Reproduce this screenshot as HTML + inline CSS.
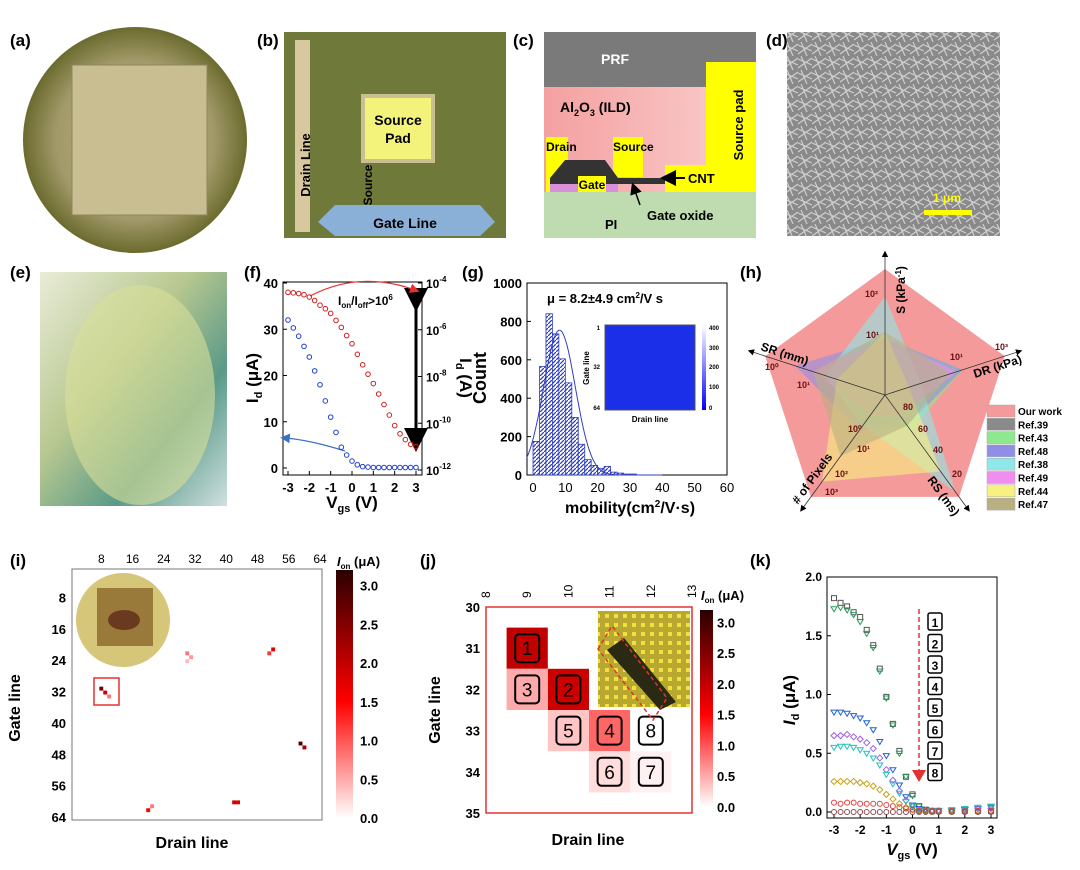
<!DOCTYPE html>
<html><head><meta charset="utf-8"><style>
html,body{margin:0;padding:0;background:#fff;}
svg{display:block;font-family:"Liberation Sans",sans-serif;font-weight:bold;}
</style></head><body>
<svg id="fig" width="1080" height="870" viewBox="0 0 1080 870" xmlns="http://www.w3.org/2000/svg">
<defs>
<radialGradient id="waferG" cx="50%" cy="50%" r="50%"><stop offset="0" stop-color="#b7a878"/><stop offset="0.7" stop-color="#a39a6a"/><stop offset="1" stop-color="#6b6b2e"/></radialGradient>
<linearGradient id="eG" x1="0" y1="0" x2="1" y2="1"><stop offset="0" stop-color="#e9ecd8"/><stop offset="0.4" stop-color="#b8c890"/><stop offset="0.7" stop-color="#5a9a88"/><stop offset="1" stop-color="#cfe0e0"/></linearGradient>
<linearGradient id="ildG" x1="0" y1="0" x2="1" y2="0"><stop offset="0" stop-color="#f4a0a0"/><stop offset="1" stop-color="#fbd0d0"/></linearGradient>
<pattern id="semP" width="14" height="14" patternUnits="userSpaceOnUse"><rect width="14" height="14" fill="#8a8a8a"/><path d="M0 3L14 9M3 0L9 14M0 12L14 2" stroke="#cfcfcf" stroke-width="1.2"/></pattern>
<pattern id="hatch" width="4" height="4" patternUnits="userSpaceOnUse"><rect width="4" height="4" fill="#fff"/><path d="M0 4L4 0" stroke="#2f3fc0" stroke-width="1.3"/></pattern>
<linearGradient id="cbI" x1="0" y1="1" x2="0" y2="0"><stop offset="0" stop-color="#fff"/><stop offset="0.47" stop-color="#ff0000"/><stop offset="1" stop-color="#2a0000"/></linearGradient>
<linearGradient id="cbG" x1="0" y1="1" x2="0" y2="0"><stop offset="0" stop-color="#0000ff"/><stop offset="1" stop-color="#ffffff"/></linearGradient>
<pattern id="padP" width="9" height="9" patternUnits="userSpaceOnUse"><rect width="9" height="9" fill="#b8a830"/><rect x="2" y="2" width="4" height="4" fill="#f0e040"/></pattern>
<marker id="arrK" markerWidth="8" markerHeight="8" refX="4" refY="4" orient="auto"><path d="M0 0L8 4L0 8z" fill="#000"/></marker>
<marker id="arrR" markerWidth="8" markerHeight="8" refX="4" refY="4" orient="auto"><path d="M0 0L8 4L0 8z" fill="#e53030"/></marker>
<marker id="arrB" markerWidth="8" markerHeight="8" refX="4" refY="4" orient="auto"><path d="M0 0L8 4L0 8z" fill="#3a70c8"/></marker>
</defs>

<!-- (a) -->
<g>
<text x="10" y="46" font-size="17">(a)</text>
<ellipse cx="135" cy="140" rx="112" ry="113" fill="url(#waferG)"/>
<rect x="72" y="65" width="135" height="150" fill="#c9bd92" stroke="#8a8760"/>
</g>

<!-- (b) -->
<g>
<text x="257" y="46" font-size="17">(b)</text>
<rect x="284" y="32" width="222" height="206" fill="#6f7a3a"/>
<rect x="295" y="40" width="15" height="192" fill="#d8c8a0"/>
<rect x="363" y="96" width="70" height="65" fill="#f3f27a" stroke="#c8c090" stroke-width="4"/>
<path d="M318 222L335 205H480L495 222L480 236H335Z" fill="#8ab0d8"/>
<text x="310" y="165" font-size="13" transform="rotate(-90 310 165)" text-anchor="middle">Drain Line</text>
<text x="398" y="125" font-size="14" text-anchor="middle">Source</text>
<text x="398" y="143" font-size="14" text-anchor="middle">Pad</text>
<text x="372" y="185" font-size="12" transform="rotate(-90 372 185)" text-anchor="middle">Source</text>
<text x="405" y="228" font-size="14" text-anchor="middle">Gate Line</text>
</g>

<!-- (c) -->
<g>
<text x="513" y="46" font-size="17">(c)</text>
<rect x="544" y="32" width="212" height="55" fill="#7a7a7a"/>
<rect x="544" y="87" width="212" height="105" fill="url(#ildG)"/>
<rect x="544" y="192" width="212" height="46" fill="#bedcb0"/>
<rect x="706" y="62" width="50" height="130" fill="#ffff00"/>
<rect x="665" y="165" width="91" height="27" fill="#ffff00"/>
<rect x="546" y="137" width="22" height="55" fill="#ffff00"/>
<rect x="613" y="137" width="30" height="40" fill="#ffff00"/>
<path d="M550 178L565 160H605L618 178L665 178V184H550Z" fill="#333"/>
<rect x="550" y="184" width="68" height="8" fill="#d890d8"/>
<rect x="578" y="176" width="28" height="16" fill="#ffff00"/>
<text x="615" y="64" font-size="14" fill="#fff" text-anchor="middle">PRF</text>
<text x="560" y="112" font-size="14">Al<tspan font-size="9" dy="4">2</tspan><tspan dy="-4">O</tspan><tspan font-size="9" dy="4">3</tspan><tspan dy="-4"> (ILD)</tspan></text>
<text x="546" y="151" font-size="12">Drain</text>
<text x="613" y="151" font-size="12">Source</text>
<text x="592" y="189" font-size="12" text-anchor="middle">Gate</text>
<text x="743" y="125" font-size="13" transform="rotate(-90 743 125)" text-anchor="middle">Source pad</text>
<line x1="685" y1="178" x2="668" y2="178" stroke="#000" stroke-width="2" marker-end="url(#arrK)"/>
<text x="688" y="183" font-size="13">CNT</text>
<line x1="640" y1="205" x2="634" y2="188" stroke="#000" stroke-width="1.5" marker-end="url(#arrK)"/>
<text x="605" y="229" font-size="13">PI</text>
<text x="647" y="220" font-size="13">Gate oxide</text>
</g>

<!-- (d) -->
<g>
<rect x="787" y="32" width="213" height="204" fill="url(#semP)"/>
<text x="766" y="46" font-size="17">(d)</text>
<rect x="924" y="210" width="48" height="5" fill="#ffff00"/>
<text x="947" y="202" font-size="12" fill="#ffff00" text-anchor="middle">1 μm</text>
</g>

<!-- (e) -->
<g>
<text x="10" y="278" font-size="17">(e)</text>
<rect x="40" y="272" width="187" height="234" fill="url(#eG)"/>
<ellipse cx="140" cy="395" rx="75" ry="110" fill="#d8e09a" opacity="0.6"/>
</g>

<!-- (f) -->
<g id="pf">
<text x="244" y="278" font-size="17">(f)</text>
<rect x="283" y="282" width="139" height="193" fill="none" stroke="#000" stroke-width="1"/>
<text x="258" y="378" font-size="17" transform="rotate(-90 258 378)" text-anchor="middle">I<tspan font-size="11" dy="4">d</tspan><tspan dy="-4"> (μA)</tspan></text>
<text x="460" y="378" font-size="17" transform="rotate(90 460 378)" text-anchor="middle">I<tspan font-size="11" dy="4">d</tspan><tspan dy="-4"> (A)</tspan></text>
<text x="352" y="508" font-size="17" text-anchor="middle">V<tspan font-size="11" dy="4">gs</tspan><tspan dy="-4"> (V)</tspan></text>
<text x="338" y="305" font-size="12">I<tspan font-size="8" dy="3">on</tspan><tspan dy="-3">/I</tspan><tspan font-size="8" dy="3">off</tspan><tspan dy="-3">&gt;10</tspan><tspan font-size="8" dy="-5">6</tspan></text>
<line x1="416" y1="300" x2="416" y2="440" stroke="#000" stroke-width="3" marker-start="url(#arrK)" marker-end="url(#arrK)"/>
<path d="M310 296Q360 270 415 290" fill="none" stroke="#e53030" stroke-width="1.2" marker-end="url(#arrR)"/>
<path d="M345 451Q310 440 285 438" fill="none" stroke="#3a70c8" stroke-width="1.2" marker-end="url(#arrB)"/>
<g id="fAxes"></g><g id="fMarks"></g>
</g>

<!-- (g) -->
<g id="pg">
<text x="462" y="278" font-size="17">(g)</text>
<rect x="527" y="283" width="200" height="192" fill="none" stroke="#000"/>
<text x="486" y="378" font-size="18" transform="rotate(-90 486 378)" text-anchor="middle">Count</text>
<text x="630" y="513" font-size="16" text-anchor="middle">mobility(cm<tspan font-size="10" dy="-6">2</tspan><tspan dy="6">/V·s)</tspan></text>
<text x="547" y="303" font-size="13">μ = 8.2±4.9 cm<tspan font-size="8" dy="-5">2</tspan><tspan dy="5">/V s</tspan></text>
<g id="gAxes"></g><g id="gMarks"></g>
<rect x="605" y="325" width="90" height="85" fill="#1b2fe8" stroke="#555"/>
<rect x="702" y="325" width="4" height="85" fill="url(#cbG)"/>
<text x="650" y="422" font-size="8" text-anchor="middle">Drain line</text>
<text x="589" y="368" font-size="8" transform="rotate(-90 589 368)" text-anchor="middle">Gate line</text>
<text x="600" y="330" font-size="6" text-anchor="end">1</text><text x="600" y="369" font-size="6" text-anchor="end">32</text><text x="600" y="410" font-size="6" text-anchor="end">64</text>
<text x="709" y="330" font-size="6">400</text><text x="709" y="350" font-size="6">300</text><text x="709" y="369" font-size="6">200</text><text x="709" y="389" font-size="6">100</text><text x="709" y="410" font-size="6">0</text>
</g>

<!-- (h) -->
<g id="ph">
<text x="740" y="278" font-size="17">(h)</text>
<g id="hMarks"></g>
<text x="905" y="290" font-size="12" transform="rotate(-90 905 290)" text-anchor="middle">S (kPa<tspan font-size="8" dy="-4">-1</tspan><tspan dy="4">)</tspan></text>
<text x="760" y="350" font-size="12" transform="rotate(18 760 350)">SR (mm)</text>
<text x="975" y="378" font-size="12" transform="rotate(-18 975 378)">DR (kPa)</text>
<text x="927" y="480" font-size="12" transform="rotate(54 927 480)">RS (ms)</text>
<text x="798" y="505" font-size="12" transform="rotate(-54 798 505)"># of Pixels</text>
<g font-size="9" fill="#6a1010">
<text x="865" y="297">10²</text><text x="866" y="338">10¹</text><text x="765" y="370">10⁰</text><text x="797" y="388">10¹</text>
<text x="950" y="360">10¹</text><text x="995" y="350">10³</text><text x="848" y="432">10⁰</text><text x="857" y="452">10¹</text>
<text x="835" y="477">10²</text><text x="825" y="495">10³</text><text x="903" y="410">80</text><text x="918" y="432">60</text>
<text x="933" y="453">40</text><text x="952" y="477">20</text>
</g>
<g id="hLegend"></g>
</g>

<!-- (i) -->
<g id="pi">
<text x="10" y="566" font-size="17">(i)</text>
<rect x="72" y="569" width="250" height="251" fill="#fff" stroke="#777"/>
<g id="iMarks"></g>
<circle cx="123" cy="620" r="47" fill="#d6c67a"/>
<rect x="97" y="588" width="56" height="58" fill="#9a7a3a"/>
<ellipse cx="124" cy="620" rx="16" ry="10" fill="#6a3a20"/>
<rect x="94" y="678" width="25" height="27" fill="none" stroke="#e53030" stroke-width="1.5"/>
<text x="20" y="708" font-size="16" transform="rotate(-90 20 708)" text-anchor="middle">Gate line</text>
<text x="192" y="848" font-size="16" text-anchor="middle">Drain line</text>
<rect x="336" y="570" width="17" height="248" fill="url(#cbI)"/>
<g id="iAxes"></g>
</g>

<!-- (j) -->
<g id="pj">
<text x="420" y="566" font-size="17">(j)</text>
<g id="jMarks"></g>
<rect x="598" y="611" width="92" height="96" fill="url(#padP)"/>
<path d="M607 650L624 638L676 702L660 710Z" fill="#2a2a14"/>
<path d="M598 649L612 626L667 698L653 720Z" fill="none" stroke="#e53030" stroke-dasharray="4 3" stroke-width="1.5"/>
<rect x="486" y="607" width="206" height="206" fill="none" stroke="#e53030" stroke-width="1.5"/>
<text x="440" y="710" font-size="16" transform="rotate(-90 440 710)" text-anchor="middle">Gate line</text>
<text x="588" y="845" font-size="16" text-anchor="middle">Drain line</text>
<rect x="700" y="610" width="13" height="197" fill="url(#cbI)"/>
<text x="701" y="600" font-size="13"><tspan font-style="italic">I</tspan><tspan font-size="8" dy="3">on</tspan><tspan dy="-3"> (μA)</tspan></text>
<g id="jAxes"></g>
</g>

<!-- (k) -->
<g id="pk">
<text x="750" y="566" font-size="17">(k)</text>
<rect x="827" y="577" width="170" height="241" fill="none" stroke="#000"/>
<text x="795" y="700" font-size="17" transform="rotate(-90 795 700)" text-anchor="middle" font-style="italic">I<tspan font-size="11" dy="4" font-style="normal">d</tspan><tspan dy="-4" font-style="normal"> (μA)</tspan></text>
<text x="912" y="855" font-size="17" text-anchor="middle"><tspan font-style="italic">V</tspan><tspan font-size="11" dy="4">gs</tspan><tspan dy="-4"> (V)</tspan></text>
<g id="kAxes"></g><g id="kMarks"></g>
<line x1="919" y1="609" x2="919" y2="770" stroke="#e53030" stroke-width="1.5" stroke-dasharray="5 3"/>
<path d="M912 770L926 770L919 782Z" fill="#e53030"/>
<g id="kNums"></g>
</g>
</svg>
<script>
// ---- panel f data
const fVgs = [-3,-2.75,-2.5,-2.25,-2,-1.75,-1.5,-1.25,-1,-0.75,-0.5,-0.25,0,0.25,0.5,0.75,1,1.25,1.5,1.75,2,2.25,2.5,2.75,3];
const fRedLog = [-4.4,-4.42,-4.45,-4.5,-4.6,-4.75,-4.95,-5.1,-5.3,-5.6,-5.9,-6.25,-6.6,-7.05,-7.5,-7.9,-8.3,-8.75,-9.2,-9.65,-10.1,-10.45,-10.7,-10.9,-11.0];
const fBlue = [32,30.3,28.5,26.3,24,21,18,14.5,11,7.7,4.5,2.8,1.5,0.7,0.3,0.2,0.1,0.1,0.1,0.1,0.1,0.1,0.1,0.1,0.1];
const fXTicks = [-3,-2,-1,0,1,2,3];
const fYTicks = [0,10,20,30,40];
const fY2Ticks = [-12,-10,-8,-6,-4];
// ---- panel g data
const gBinStart = [0,2,4,6,8,10,12,14,16,18,20,22,24,26,28,30];
const gCounts = [175,565,840,735,605,480,300,160,80,50,35,45,15,10,5,5];
const gXTicks = [0,10,20,30,40,50,60];
const gYTicks = [0,200,400,600,800,1000];
const gFitMean = 8.2, gFitSd = 4.9, gFitPeak = 755;
// ---- panel h data (normalized radius 0..1, axes: S, DR, RS, Pixels, SR)
const hNames = ["Our work","Ref.39","Ref.43","Ref.48","Ref.38","Ref.49","Ref.44","Ref.47"];
const hColors = ["#f59a9a","#8a8a8a","#8ee88e","#8f8fe8","#8ee8e8","#f08ef0","#f8f080","#b8b080"];
const hOur = [1,1,1,1,1];
const h39 = [0.3,0.15,0.3,0.3,0.4];
const h43 = [0.45,0.65,0.35,0.2,0.55];
const h48 = [0.45,0.65,0.3,0.35,0.75];
const h38 = [0.78,0.3,0.95,0.3,0.5];
const h49 = [0.45,0.6,0.2,0.2,0.6];
const h44 = [0.5,0.2,0.75,0.85,0.4];
const h47 = [0.5,0.55,0.3,0.6,0.6];
// ---- panel i data (drain, gate, Ion)
const iDrain = [8,9,10,30,31,30,51,52,59,60,42,43,20,21];
const iGate = [31,32,33,22,23,24,22,21,45,46,60,60,62,61];
const iVal = [2.6,1.9,0.8,0.8,0.6,0.4,1.2,1.8,2.9,2.2,1.8,1.8,1.5,0.8];
const iXTicks = [8,16,24,32,40,48,56,64];
const iYTicks = [8,16,24,32,40,48,56,64];
const cbTicks = [0,0.5,1,1.5,2,2.5,3];
// ---- panel j data
const jDrain = [9,10,9,11,10,11,12,12];
const jGate = [31,32,32,33,33,34,34,33];
const jVal = [2.0,1.9,0.5,0.9,0.35,0.2,0.08,0.0];
const jLabel = ["1","2","3","4","5","6","7","8"];
const jXTicks = [8,9,10,11,12,13];
const jYTicks = [30,31,32,33,34,35];
// ---- panel k data
const kVgs = [-3,-2.75,-2.5,-2.25,-2,-1.75,-1.5,-1.25,-1,-0.75,-0.5,-0.25,0,0.25,0.5,0.75,1,1.5,2,2.5,3];
const k1 = [1.82,1.78,1.75,1.7,1.66,1.55,1.42,1.22,0.98,0.75,0.52,0.3,0.15,0.05,0.02,0.01,0.01,0.01,0.01,0.01,0.01];
const k2 = [1.73,1.74,1.72,1.68,1.62,1.52,1.4,1.2,0.97,0.74,0.5,0.3,0.14,0.05,0.02,0.01,0.01,0.01,0.02,0.03,0.04];
const k3 = [0.85,0.85,0.84,0.82,0.8,0.76,0.7,0.6,0.48,0.36,0.23,0.13,0.06,0.03,0.02,0.01,0.01,0.01,0.02,0.03,0.04];
const k4 = [0.65,0.65,0.66,0.64,0.62,0.59,0.54,0.46,0.36,0.27,0.18,0.1,0.05,0.02,0.01,0.01,0.01,0.01,0.02,0.03,0.03];
const k5 = [0.55,0.56,0.56,0.55,0.53,0.5,0.46,0.4,0.32,0.24,0.16,0.09,0.05,0.02,0.01,0.01,0.01,0.02,0.03,0.04,0.05];
const k6 = [0.26,0.26,0.26,0.26,0.25,0.24,0.22,0.19,0.15,0.11,0.07,0.04,0.02,0.01,0.01,0.01,0.01,0.01,0.01,0.01,0.01];
const k7 = [0.08,0.07,0.08,0.08,0.07,0.07,0.07,0.07,0.06,0.05,0.04,0.03,0.02,0.01,0.01,0.01,0.01,0.01,0.01,0.01,0.01];
const k8 = [0,0,0,0,0,0,0,0,0,0,0,0,0,0,0,0,0,0,0,0,0];
const kXTicks = [-3,-2,-1,0,1,2,3];
const kYTicks = [0,0.5,1,1.5,2];

const NS = "http://www.w3.org/2000/svg";
function mk(parent, tag, attrs, txt){const e=document.createElementNS(NS,tag);for(const k in attrs)e.setAttribute(k,attrs[k]);if(txt!==undefined)e.textContent=txt;parent.appendChild(e);return e;}
const $ = id=>document.getElementById(id);
function lin(d0,d1,r0,r1){return v=>r0+(v-d0)/(d1-d0)*(r1-r0);}

// panel f
{const x=lin(-3,3,288,416), y=lin(0,40,468,283), y2=lin(-12,-4,470,283);
const ax=$("fAxes"), m=$("fMarks");
fXTicks.forEach(t=>{const l=mk(ax,"text",{x:x(t),y:492,"font-size":13,"text-anchor":"middle"},t);mk(ax,"line",{x1:x(t),x2:x(t),y1:475,y2:471,stroke:"#000"});});
fYTicks.forEach(t=>{const l=mk(ax,"text",{x:278,y:y(t)+5,"font-size":13,"text-anchor":"end"},t);mk(ax,"line",{x1:283,x2:287,y1:y(t),y2:y(t),stroke:"#000"});});
fY2Ticks.forEach(t=>{const l=mk(ax,"text",{x:426,y:y2(t)+5,"font-size":12},"10");mk(l,"tspan",{"font-size":8,dy:-6},String(t));mk(ax,"line",{x1:418,x2:422,y1:y2(t),y2:y2(t),stroke:"#000"});});
fVgs.forEach((v,i)=>{const c=mk(m,"circle",{cx:x(v),cy:y2(fRedLog[i]),r:2.3,fill:"none",stroke:"#d02020","stroke-width":1});
const b=mk(m,"circle",{cx:x(v),cy:y(fBlue[i]),r:2.3,fill:"none",stroke:"#2040d0","stroke-width":1});});}

// panel g
{const x=lin(0,60,533,727), y=lin(0,1000,475,283);
const ax=$("gAxes"), m=$("gMarks");
gXTicks.forEach(t=>{const l=mk(ax,"text",{x:x(t),y:492,"font-size":13,"text-anchor":"middle","font-weight":"normal"},t);});
gYTicks.forEach(t=>{const l=mk(ax,"text",{x:522,y:y(t)+5,"font-size":13,"text-anchor":"end"},t);mk(ax,"line",{x1:527,x2:531,y1:y(t),y2:y(t),stroke:"#000"});});
gBinStart.forEach((s,i)=>{const r=mk(m,"rect",{x:x(s),y:y(gCounts[i]),width:x(s+2)-x(s),height:y(0)-y(gCounts[i]),fill:"url(#hatch)",stroke:"#2f3fc0","stroke-width":0.8});});
let d="";for(let v=-2;v<=40;v+=0.5){const c=gFitPeak*Math.exp(-((v-gFitMean)**2)/(2*gFitSd*gFitSd));d+=(d?"L":"M")+x(v).toFixed(1)+" "+y(c).toFixed(1);}
const p=mk(m,"path",{d:d,fill:"none",stroke:"#2f3fc0","stroke-width":1});}

// panel h
{const cx=885,cy=395,R=126;const ang=[-90,-18,54,126,198].map(a=>a*Math.PI/180);
const pt=(r,i)=>[cx+R*r*Math.cos(ang[i]),cy+R*r*Math.sin(ang[i])];
const m=$("hMarks");const series=[hOur,h39,h43,h48,h38,h49,h44,h47];
series.forEach((s,k)=>{const p=mk(m,"polygon",{points:s.map((r,i)=>pt(r,i).join(",")).join(" "),fill:hColors[k],"fill-opacity":k==0?1:0.6});});
ang.forEach((a,i)=>{const e=pt(1.12,i);mk(m,"line",{x1:cx,y1:cy,x2:e[0],y2:e[1],stroke:"#333","stroke-width":0.8,"marker-end":"url(#arrK)"});});
const lg=$("hLegend");hNames.forEach((n,i)=>{const yy=405+i*13.3;const r=mk(lg,"rect",{x:987,y:yy,width:28,height:12,fill:hColors[i],stroke:"#aaa","stroke-width":0.5});
const t=mk(lg,"text",{x:1018,y:yy+10,"font-size":10},n);});}

function heatColor(v){const t=Math.min(v/3.2,1);if(t<0.47){const u=t/0.47;return `rgb(255,${Math.round(255*(1-u))},${Math.round(255*(1-u))})`;}const u=(t-0.47)/0.53;return `rgb(${Math.round(255-213*u)},0,0)`;}
// panel i
{const u=250/64, x=d=>72+(d-0.5)*u, y=g=>569+(g-0.5)*(251/64);const ax=$("iAxes"), m=$("iMarks");
iXTicks.forEach(t=>{const l=mk(ax,"text",{x:x(t),y:563,"font-size":12,"text-anchor":"middle","font-weight":"normal"},t);});
iYTicks.forEach(t=>{const l=mk(ax,"text",{x:66,y:y(t)+4,"font-size":13,"text-anchor":"end"},t);});
cbTicks.forEach(t=>{const yy=818-t/3.2*248;const l=mk(ax,"text",{x:360,y:yy+5,"font-size":13},t.toFixed(1));});
const tt=mk(ax,"text",{x:337,y:566,"font-size":13},"");mk(tt,"tspan",{"font-style":"italic"},"I");mk(tt,"tspan",{"font-size":8,dy:3},"on");mk(tt,"tspan",{dy:-3}," (μA)");
iDrain.forEach((d,i)=>{const r=mk(m,"rect",{x:x(d)-u/2,y:y(iGate[i])-u/2,width:u,height:u,fill:heatColor(iVal[i])});});}

// panel j
{const x=lin(8,13,486,692), y=lin(30,35,607,813);const ax=$("jAxes"), m=$("jMarks");
jXTicks.forEach(t=>{const l=mk(ax,"text",{x:x(t)+4,y:598,"font-size":12,"font-weight":"normal",transform:`rotate(-90 ${x(t)+4} 598)`},t);});
jYTicks.forEach(t=>{const l=mk(ax,"text",{x:480,y:y(t)+5,"font-size":13,"text-anchor":"end"},t);});
cbTicks.forEach(t=>{const yy=807-t/3.2*197;const l=mk(ax,"text",{x:717,y:yy+5,"font-size":13},t.toFixed(1));});
jDrain.forEach((d,i)=>{const cx=x(d),cy=y(jGate[i]),w=x(1)-x(0),h=y(1)-y(0);
const r=mk(m,"rect",{x:cx-w/2,y:cy-h/2,width:w,height:h,fill:heatColor(jVal[i])});
mk(m,"rect",{x:cx-12,y:cy-14,width:24,height:28,rx:4,fill:"none",stroke:"#000","stroke-width":2});
const t=mk(m,"text",{x:cx,y:cy+7,"font-size":19,"text-anchor":"middle","font-weight":"normal"},jLabel[i]);});}

// panel k
{const x=lin(-3,3,834,991), y=lin(0,2,812,577);const ax=$("kAxes"), m=$("kMarks");
kXTicks.forEach(t=>{const l=mk(ax,"text",{x:x(t),y:834,"font-size":12,"text-anchor":"middle"},t);mk(ax,"line",{x1:x(t),x2:x(t),y1:818,y2:814,stroke:"#000"});});
kYTicks.forEach(t=>{const l=mk(ax,"text",{x:822,y:y(t)+4,"font-size":12,"text-anchor":"end"},t.toFixed(1));mk(ax,"line",{x1:827,x2:831,y1:y(t),y2:y(t),stroke:"#000"});});
const ser=[[k1,"#555","sq"],[k2,"#2a9a5a","tri"],[k3,"#2060d0","tri"],[k4,"#a060e0","dia"],[k5,"#20c0c0","tri"],[k6,"#c8a010","dia"],[k7,"#e04040","circ"],[k8,"#8a5050","circ"]];
ser.forEach(([s,c,sh])=>{kVgs.forEach((v,i)=>{const px=x(v),py=y(s[i]);let e;
if(sh=="sq")e=mk(m,"rect",{x:px-2.5,y:py-2.5,width:5,height:5,fill:"none",stroke:c});
else if(sh=="tri")e=mk(m,"path",{d:`M${px-3} ${py-2}L${px+3} ${py-2}L${px} ${py+3}Z`,fill:"none",stroke:c});
else if(sh=="dia")e=mk(m,"path",{d:`M${px} ${py-3}L${px+3} ${py}L${px} ${py+3}L${px-3} ${py}Z`,fill:"none",stroke:c});
else e=mk(m,"circle",{cx:px,cy:py,r:2.5,fill:"none",stroke:c});
});});
const nums=$("kNums");["1","2","3","4","5","6","7","8"].forEach((n,i)=>{const yy=622+i*21.5;mk(nums,"rect",{x:928,y:yy-9,width:14,height:17,rx:2,fill:"#fff",stroke:"#000","stroke-width":1.5});
const t=mk(nums,"text",{x:935,y:yy+5,"font-size":12,"text-anchor":"middle"},n);});}
</script>
</body></html>
